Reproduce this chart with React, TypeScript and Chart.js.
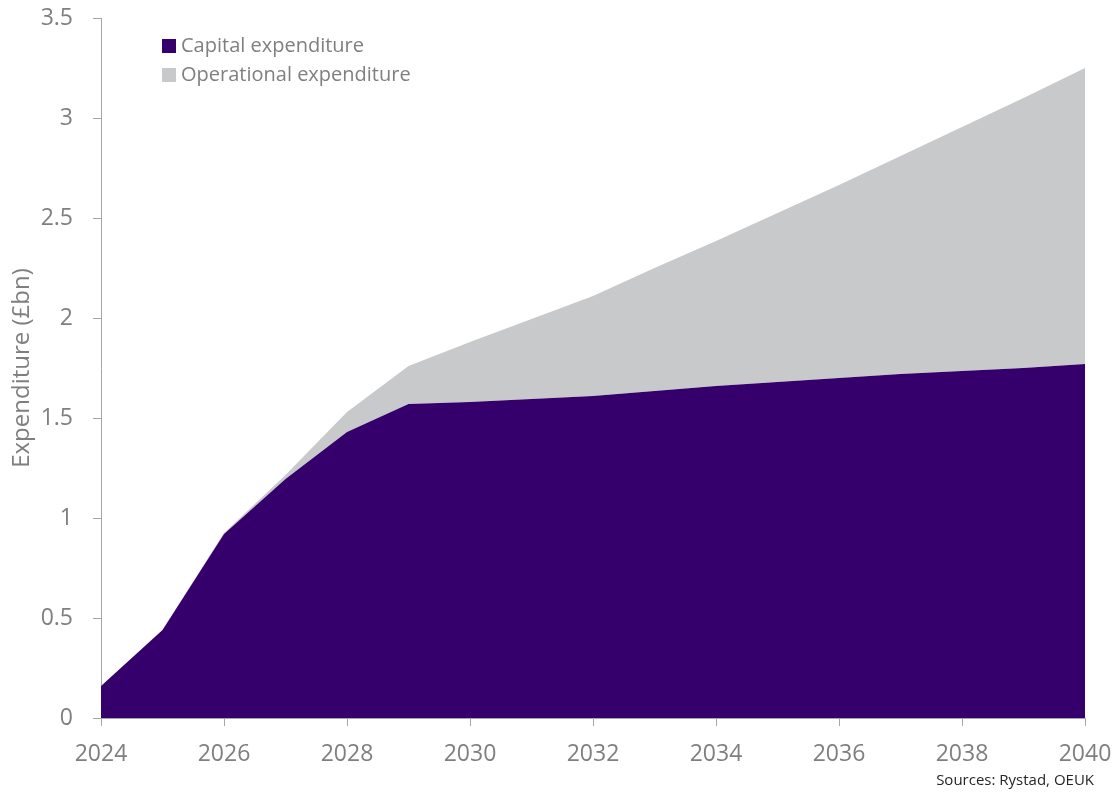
import React, { useEffect, useRef } from "react";
import { Chart, registerables } from "chart.js";

Chart.register(...registerables);

const years = [2024, 2025, 2026, 2027, 2028, 2029, 2030, 2031, 2032, 2033, 2034, 2035, 2036, 2037, 2038, 2039, 2040];
const capex = [0.16, 0.44, 0.92, 1.195, 1.43, 1.57, 1.58, 1.595, 1.61, 1.635, 1.66, 1.68, 1.70, 1.72, 1.735, 1.75, 1.77];
const opex = [0, 0, 0.005, 0.02, 0.10, 0.19, 0.30, 0.40, 0.50, 0.615, 0.725, 0.845, 0.965, 1.09, 1.22, 1.35, 1.48];
const seriesNames = ["Capital expenditure", "Operational expenditure"];
const seriesColors = ["#35006B", "#C8C9CB"];
const yTitle = "Expenditure (£bn)";
const sourceText = "Sources: Rystad, OEUK";

const FONT = "'Open Sans', Lato, sans-serif";
const TEXT_GRAY = "#7F7F7F";
const AXIS_GRAY = "#A6A6A6";

export default function App() {
  const ref = useRef<HTMLCanvasElement | null>(null);

  useEffect(() => {
    const canvas = ref.current;
    if (!canvas) return;

    const overlay = {
      id: "overlay",
      afterDraw(chart: any) {
        const ctx = chart.ctx;
        ctx.save();
        // legend
        seriesNames.forEach((name, i) => {
          const y = 39 + i * 29;
          ctx.fillStyle = seriesColors[i];
          ctx.fillRect(162, y, 14, 14);
          ctx.fillStyle = TEXT_GRAY;
          ctx.font = `20px ${FONT}`;
          ctx.textBaseline = "middle";
          ctx.textAlign = "left";
          ctx.fillText(name, 181, y + 7);
        });
        // source
        ctx.fillStyle = "#262626";
        ctx.font = `15px ${FONT}`;
        ctx.textAlign = "right";
        ctx.textBaseline = "middle";
        ctx.fillText(sourceText, 1094, 781);
        ctx.restore();
      },
    };

    const chart = new Chart(canvas, {
      type: "line",
      data: {
        datasets: [
          {
            label: seriesNames[0],
            data: years.map((x, i) => ({ x, y: capex[i] })),
            backgroundColor: seriesColors[0],
            borderColor: seriesColors[0],
            borderWidth: 0,
            pointRadius: 0,
            fill: "origin",
            tension: 0,
          },
          {
            label: seriesNames[1],
            data: years.map((x, i) => ({ x, y: opex[i] })),
            backgroundColor: seriesColors[1],
            borderColor: seriesColors[1],
            borderWidth: 0,
            pointRadius: 0,
            fill: "-1",
            tension: 0,
          },
        ],
      },
      options: {
        animation: false,
        responsive: false,
        maintainAspectRatio: false,
        layout: { padding: { left: 0, right: 31, top: 18, bottom: 0 } },
        plugins: {
          legend: { display: false },
          tooltip: { enabled: false },
        },
        scales: {
          x: {
            type: "linear",
            min: 2024,
            max: 2040,
            offset: false,
            grid: {
              display: true,
              drawOnChartArea: false,
              drawTicks: true,
              tickLength: 8,
              color: AXIS_GRAY,
            },
            border: { display: true, color: AXIS_GRAY, width: 1 },
            ticks: {
              stepSize: 2,
              padding: 15,
              color: TEXT_GRAY,
              font: { family: FONT, size: 23 },
              callback: (v: any) => String(v),
              maxRotation: 0,
            },
            afterFit: (scale: any) => {
              scale.height = 792 - 718;
              scale.paddingLeft = 0;
              scale.paddingRight = 0;
            },
          },
          y: {
            stacked: true,
            min: 0,
            max: 3.5,
            grid: {
              display: true,
              drawOnChartArea: false,
              drawTicks: true,
              tickLength: 8,
              color: AXIS_GRAY,
            },
            border: { display: true, color: AXIS_GRAY, width: 1 },
            ticks: {
              stepSize: 0.5,
              padding: 20,
              color: TEXT_GRAY,
              font: { family: FONT, size: 23 },
              callback: (v: any) => String(v),
            },
            title: {
              display: true,
              text: yTitle,
              color: TEXT_GRAY,
              font: { family: FONT, size: 24 },
              padding: { top: 8, bottom: 0 },
            },
            afterFit: (scale: any) => {
              scale.width = 101;
              scale.paddingTop = 0;
              scale.paddingBottom = 0;
            },
          },
        },
      },
      plugins: [overlay],
    });

    return () => chart.destroy();
  }, []);

  return (
    <div style={{ position: "fixed", left: 0, top: 0, width: 1116, height: 792, background: "#fff" }}>
      <canvas ref={ref} width={1116} height={792} style={{ width: 1116, height: 792, display: "block" }} />
    </div>
  );
}
